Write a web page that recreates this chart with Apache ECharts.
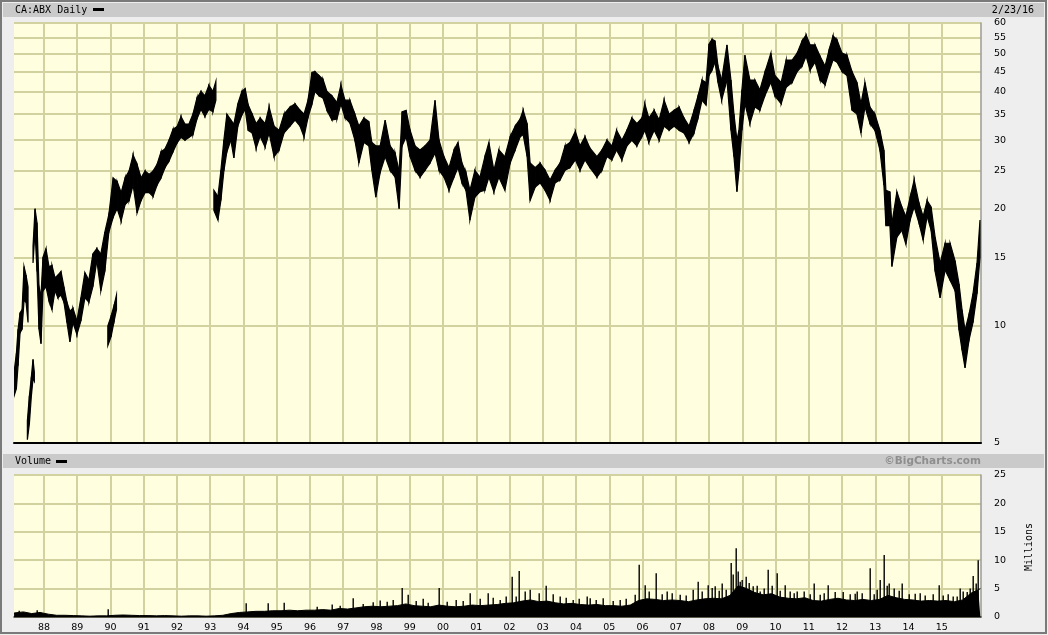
<!DOCTYPE html>
<html><head><meta charset="utf-8">
<script src="https://cdn.jsdelivr.net/npm/echarts@6/dist/echarts.min.js"></script>
<style>html,body{margin:0;padding:0;background:#EEEEEE;}#c{width:1048px;height:635px;}</style>
</head><body><div id="c"></div>
<script>
// ---- data (decimal years; prices; volume in millions) ----
const yearTicks = [1988,1989,1990,1991,1992,1993,1994,1995,1996,1997,1998,1999,2000,2001,2002,2003,2004,2005,2006,2007,2008,2009,2010,2011,2012,2013,2014,2015];
const priceTicks = [5,10,15,20,25,30,35,40,45,50,55,60];

// the daily record has a few disjoint pieces; each piece has its own arrays
const early87Dates = [1987.10,1987.17,1987.22,1987.28,1987.34,1987.40,1987.46,1987.52];
const early87High  = [7.6,8.5,9.8,10.8,11.0,14.2,13.5,12.6];
const early87Low   = [6.6,6.9,7.9,9.6,9.8,11.6,11.5,10.2];

const low87Dates = [1987.50,1987.56,1987.62,1987.67,1987.71];
const low87High  = [5.7,6.6,7.4,8.2,7.6];
const low87Low   = [5.1,5.6,6.6,7.3,7.2];

const mid8793Dates = [
 1987.67,1987.73,1987.79,1987.85,1987.91,1987.97,1988.06,1988.15,1988.24,1988.33,1988.42,1988.51,1988.60,1988.69,1988.78,1988.87,1988.99,
 1989.11,1989.23,1989.35,1989.47,1989.59,1989.71,1989.83,1989.95,1990.08,1990.20,1990.32,1990.44,1990.56,1990.68,1990.80,1990.92,
 1991.04,1991.16,1991.28,1991.40,1991.52,1991.64,1991.76,1991.88,1992.00,1992.12,1992.24,1992.36,1992.48,1992.60,1992.72,1992.84,1992.96,1993.08,1993.17];
const mid8793High = [
 16.0,20.0,18.4,12.6,12.0,15.0,15.8,14.2,14.3,13.3,13.5,13.8,12.6,11.5,10.9,11.1,10.3,
 11.8,13.7,13.1,15.3,15.8,15.3,17.4,19.3,24.0,23.5,22.0,24.0,25.0,27.5,26.0,24.0,
 25.0,24.5,25.0,26.0,28.0,28.5,30.0,32.0,32.5,34.5,33.0,33.0,35.0,38.5,40.0,39.0,41.5,40.0,42.5];
const mid8793Low = [
 14.5,17.5,13.8,9.8,9.0,12.3,12.6,11.6,11.0,12.3,11.8,12.0,11.5,10.2,9.1,10.2,9.5,
 10.3,11.8,11.5,12.6,14.7,12.3,13.8,17.4,19.0,20.0,18.6,20.5,21.0,23.0,19.5,21.0,
 22.0,22.0,21.5,23.0,24.0,25.5,26.5,28.0,29.5,30.5,30.0,30.5,31.0,34.0,36.0,34.5,36.0,35.5,38.0];

const low90Dates = [1989.92,1990.02,1990.11,1990.18];
const low90High  = [10.0,10.6,11.3,12.0];
const low90Low   = [8.9,9.4,10.3,11.0];

// main record from 1993 to 2/23/16
const mainDates = [
 1993.11,1993.23,1993.32,1993.41,1993.50,1993.62,1993.71,1993.83,1993.95,
 1994.05,1994.14,1994.26,1994.38,1994.50,1994.65,1994.77,1994.92,
 1995.07,1995.22,1995.40,1995.55,1995.70,1995.82,1995.94,
 1996.06,1996.15,1996.27,1996.39,1996.51,1996.66,1996.81,1996.93,
 1997.05,1997.20,1997.35,1997.47,1997.62,1997.77,1997.86,1997.98,
 1998.11,1998.26,1998.41,1998.56,1998.68,1998.77,1998.89,
 1999.01,1999.16,1999.31,1999.46,1999.61,1999.76,1999.88,
 2000.03,2000.18,2000.33,2000.45,2000.57,2000.69,2000.81,2000.96,
 2001.11,2001.26,2001.38,2001.53,2001.68,2001.86,
 2002.02,2002.17,2002.32,2002.41,2002.53,2002.62,2002.77,2002.92,
 2003.07,2003.22,2003.37,2003.52,2003.67,2003.82,2003.98,
 2004.12,2004.27,2004.42,2004.63,2004.78,2004.93,
 2005.08,2005.22,2005.38,2005.53,2005.68,2005.83,2005.98,
 2006.07,2006.19,2006.35,2006.50,2006.65,2006.80,2006.95,
 2007.10,2007.25,2007.40,2007.55,2007.67,2007.79,2007.91,
 2008.00,2008.09,2008.18,2008.27,2008.38,2008.54,2008.66,2008.75,2008.84,2008.90,2008.99,
 2009.08,2009.23,2009.38,2009.53,2009.68,2009.86,2009.98,
 2010.17,2010.32,2010.50,2010.65,2010.80,2010.92,
 2011.04,2011.19,2011.34,2011.49,2011.61,2011.73,2011.85,
 2012.00,2012.15,2012.30,2012.45,2012.57,2012.69,2012.84,2012.99,
 2013.14,2013.26,2013.32,2013.44,2013.50,2013.65,2013.80,2013.92,
 2014.05,2014.17,2014.32,2014.44,2014.56,2014.68,2014.80,2014.95,
 2015.10,2015.25,2015.40,2015.52,2015.61,2015.70,2015.82,2015.94,
 2016.06,2016.15];
const mainHigh = [
 22.3,21.5,25.1,30.0,35.0,33.8,33.0,37.2,40.0,
 40.7,37.0,35.0,33.1,34.2,33.1,36.5,32.6,
 31.8,35.0,36.5,37.2,35.8,35.0,38.0,
 44.8,45.0,44.0,43.0,40.0,39.0,37.5,41.6,
 38.0,38.0,35.0,32.6,34.2,33.5,29.6,29.0,
 29.0,33.8,29.0,27.8,25.0,35.5,35.8,
 31.8,29.0,28.3,29.0,30.0,38.0,30.0,
 27.2,25.5,28.3,29.6,26.2,24.8,22.3,25.1,
 24.1,27.2,29.6,25.1,28.3,27.2,
 30.6,32.6,34.0,35.8,33.1,26.2,25.5,26.2,
 25.1,23.7,25.1,26.2,29.0,29.6,31.6,
 29.0,30.6,28.6,27.2,28.3,30.0,
 29.0,31.8,30.0,31.8,34.2,33.1,34.2,
 37.2,34.2,35.8,33.8,38.0,35.0,35.8,
 36.5,34.2,32.6,35.8,39.0,42.8,42.2,
 53.0,54.5,54.0,46.5,42.8,52.7,42.8,35.0,30.0,31.8,40.4,
 49.6,42.8,42.8,40.4,44.8,50.2,44.0,
 42.2,48.2,48.2,50.2,54.0,55.9,
 52.7,52.7,49.3,46.5,51.1,55.6,54.3,
 50.2,49.6,45.0,42.2,37.2,42.2,36.5,35.0,
 31.8,28.3,22.3,22.1,18.3,22.1,20.2,19.1,
 21.4,23.7,20.6,19.1,21.0,20.2,16.9,14.5,
 16.3,16.3,14.7,12.8,11.0,9.75,10.7,12.1,
 14.5,18.7];
const mainLow = [
 19.8,18.7,21.0,25.0,28.0,30.0,27.0,32.6,34.8,
 36.0,31.8,31.3,28.6,30.7,28.8,31.3,27.2,
 28.3,31.3,32.6,33.8,32.6,30.6,34.3,
 37.2,40.0,39.0,38.5,35.8,33.8,34.0,37.2,
 34.3,33.2,30.0,26.2,29.6,29.0,25.1,21.4,
 24.8,27.2,25.1,24.1,20.0,29.0,30.6,
 27.2,25.1,24.1,25.1,26.2,27.8,25.1,
 24.1,22.3,24.1,25.5,23.3,22.3,18.7,21.4,
 22.1,22.3,24.1,22.1,24.1,22.3,
 26.2,28.3,30.6,31.0,27.2,21.0,22.7,23.3,
 22.3,21.0,23.3,23.7,25.1,25.5,26.7,
 25.1,26.7,25.5,24.1,25.1,27.2,
 26.7,28.3,26.7,29.0,30.0,29.0,30.6,
 31.8,29.6,31.8,30.0,32.6,31.8,32.6,
 31.8,31.3,29.6,31.3,34.2,38.0,36.9,
 44.0,45.4,47.6,42.2,38.0,42.8,31.8,27.2,22.1,25.0,31.8,
 37.2,33.1,36.5,35.8,39.0,42.2,39.0,
 37.2,41.0,42.2,45.0,46.5,49.3,
 45.4,47.6,42.8,41.6,45.0,48.2,47.6,
 45.0,44.0,35.8,35.0,31.3,36.5,33.1,31.8,
 28.3,23.0,18.1,18.1,14.2,16.9,17.6,16.2,
 18.7,20.2,18.3,16.6,19.1,17.6,13.8,11.8,
 13.9,13.1,12.3,9.75,8.66,7.8,9.2,10.2,
 12.1,15.0];

// volume: typical daily volume per quarter (millions) and individual tall days
const volBaseDates = [
 1987.10,1987.38,1987.63,1987.88, 1988.13,1988.38,1988.63,1988.88, 1989.13,1989.38,1989.63,1989.88,
 1990.13,1990.38,1990.63,1990.88, 1991.13,1991.38,1991.63,1991.88, 1992.13,1992.38,1992.63,1992.88,
 1993.13,1993.38,1993.63,1993.88, 1994.13,1994.38,1994.63,1994.88, 1995.13,1995.38,1995.63,1995.88,
 1996.13,1996.38,1996.63,1996.88, 1997.13,1997.38,1997.63,1997.88, 1998.13,1998.38,1998.63,1998.88,
 1999.13,1999.38,1999.63,1999.88, 2000.13,2000.38,2000.63,2000.88, 2001.13,2001.38,2001.63,2001.88,
 2002.13,2002.38,2002.63,2002.88, 2003.13,2003.38,2003.63,2003.88, 2004.13,2004.38,2004.63,2004.88,
 2005.13,2005.38,2005.63,2005.88, 2006.13,2006.38,2006.63,2006.88, 2007.13,2007.38,2007.63,2007.88,
 2008.13,2008.38,2008.63,2008.88, 2009.13,2009.38,2009.63,2009.88, 2010.13,2010.38,2010.63,2010.88,
 2011.13,2011.38,2011.63,2011.88, 2012.13,2012.38,2012.63,2012.88, 2013.13,2013.38,2013.63,2013.88,
 2014.13,2014.38,2014.63,2014.88, 2015.13,2015.38,2015.63,2015.88, 2016.10,2016.16];
const volBase = [
 0.7,0.9,0.6,0.8, 0.5,0.3,0.3,0.25, 0.2,0.15,0.2,0.2,
 0.3,0.35,0.3,0.25, 0.25,0.2,0.25,0.2, 0.15,0.2,0.2,0.15,
 0.2,0.3,0.6,0.8, 0.9,1.0,1.0,1.1, 1.1,1.2,1.1,1.2,
 1.2,1.3,1.2,1.5, 1.4,1.6,1.8,1.9, 1.8,1.9,2.0,2.3,
 2.0,1.9,1.8,2.1, 1.9,1.8,1.9,2.1, 2.0,2.1,2.2,2.4,
 2.5,2.8,3.0,2.7, 2.8,2.5,2.3,2.4, 2.2,2.1,2.2,2.0,
 2.0,1.9,2.1,2.9, 3.2,3.1,2.9,3.0, 2.9,2.7,3.0,3.2,
 3.3,3.2,3.8,5.5, 5.0,4.3,3.9,4.1, 3.5,3.3,3.2,3.4,
 2.9,2.8,3.1,3.3, 3.0,2.9,3.1,2.9, 3.1,3.8,3.4,3.1,
 3.0,2.8,2.9,2.8, 2.9,2.7,3.0,4.2, 4.8,5.0];
const volSpikeDates = [
 1987.78,1987.25,1989.93,1994.08,1994.74,1995.22,1996.66,1997.29,1998.11,1998.32,1998.77,1998.95,
 1999.55,1999.88,2000.12,2000.81,2001.35,2001.71,2002.08,2002.20,2002.29,2002.47,2002.62,
 2003.10,2003.52,2003.91,2004.33,2004.42,2004.81,2005.32,2005.77,2005.89,2006.07,2006.42,2006.74,
 2007.13,2007.52,2007.67,2007.97,2008.09,2008.18,2008.39,2008.65,2008.80,2008.93,
 2009.11,2009.32,2009.53,2009.77,2010.04,2010.29,2010.44,2010.65,
 2011.17,2011.34,2011.59,2012.04,2012.39,2012.45,2012.83,2013.15,2013.27,2013.42,2013.81,
 2014.19,2014.35,2014.93,2015.34,2015.55,2015.75,2015.95,2016.03,2016.10,
 1996.20,1996.90,1997.60,1997.90,1998.50,1999.20,1999.40,2000.40,2000.60,2001.10,2001.50,2001.90,
 2002.90,2003.30,2003.70,2004.10,2004.60,2005.10,2005.50,2006.20,2006.60,2006.90,2007.30,2007.80,
 2008.30,2008.50,2008.72,2008.87,2009.00,2009.20,2009.45,2009.65,2009.90,2010.15,2010.55,2010.85,
 2011.05,2011.45,2011.80,2012.25,2012.60,2012.95,2013.05,2013.35,2013.55,2013.70,2014.00,2014.50,
 2014.75,2015.05,2015.20,2015.45,2015.65,2015.85];
const volSpikes = [
 1.2,1.1,1.35,2.4,2.4,2.5,2.2,3.3,2.9,2.7,5.1,3.9,
 2.5,5.1,2.7,4.2,4.2,3.0,7.1,3.6,8.1,4.5,4.8,
 5.5,3.6,3.0,3.6,3.3,3.3,3.0,3.9,9.2,5.6,7.7,4.5,
 3.9,4.8,6.2,5.6,5.1,5.4,5.9,9.5,12.1,6.2,
 7.1,5.4,4.5,8.3,7.7,5.6,4.5,4.5,
 5.9,3.9,5.6,4.4,4.1,4.5,8.6,6.5,10.9,5.9,5.9,
 4.1,4.2,5.6,3.6,5.0,4.4,7.2,5.9,10.0,
 1.8,2.0,2.3,2.6,3.0,2.8,3.2,3.0,2.8,3.2,3.4,3.6,
 4.2,4.0,3.4,3.2,3.0,2.8,3.2,4.5,4.0,4.2,3.8,4.5,
 4.6,4.8,7.5,8.0,6.5,6.0,5.5,5.0,5.5,4.6,4.2,4.5,
 4.0,4.2,4.4,4.0,4.2,4.0,4.8,5.5,5.0,4.6,4.0,3.8,
 4.0,3.8,4.0,3.6,4.5,5.0];

// ---- build ----
const X_MIN = 1987.098, X_MAX = 2016.18;
const pieces = [
  [early87Dates, early87High, early87Low],
  [low87Dates, low87High, low87Low],
  [mid8793Dates, mid8793High, mid8793Low],
  [low90Dates, low90High, low90Low],
  [mainDates, mainHigh, mainLow]
];
const bandItems = [];
pieces.forEach(([d, h, l]) => {
  for (let i = 0; i < d.length - 1; i++) {
    bandItems.push([d[i], h[i], l[i], d[i + 1], h[i + 1], l[i + 1]]);
  }
});
const volBaseData = volBaseDates.map((d, i) => [d, volBase[i]]);
const volSpikeData = volSpikeDates.map((d, i) => [d, volSpikes[i]]);

const GRIDC = '#D2D2A0';
const LABEL = { fontFamily: 'DejaVu Sans', fontSize: 9.5, color: '#000' };
const chart = echarts.init(document.getElementById('c'));
chart.setOption({
  backgroundColor: '#EEEEEE',
  animation: false,
  grid: [
    { left: 14, top: 23, width: 967, height: 420, show: true, backgroundColor: '#FFFFE0', borderWidth: 0 },
    { left: 14, top: 475, width: 967, height: 142, show: true, backgroundColor: '#FFFFE0', borderWidth: 0 }
  ],
  xAxis: [
    { type: 'value', gridIndex: 0, min: X_MIN, max: X_MAX,
      axisLine: { show: true, onZero: false, lineStyle: { color: '#000', width: 2 } },
      axisTick: { show: false, customValues: yearTicks },
      axisLabel: { show: false, customValues: yearTicks },
      splitLine: { show: true, lineStyle: { color: GRIDC, width: 2 } } },
    { type: 'value', gridIndex: 1, min: X_MIN, max: X_MAX,
      axisLine: { show: true, onZero: false, lineStyle: { color: '#333', width: 1.5 } },
      axisTick: { show: false, customValues: yearTicks },
      axisLabel: Object.assign({ show: true, customValues: yearTicks, margin: 6,
        formatter: v => String(Math.round(v) % 100).padStart(2, '0') }, LABEL),
      splitLine: { show: true, lineStyle: { color: GRIDC, width: 2 } } }
  ],
  yAxis: [
    { type: 'log', gridIndex: 0, min: 5, max: 60, position: 'right',
      axisLine: { show: true, lineStyle: { color: '#9A9A9A', width: 1.5 } },
      axisTick: { show: false, customValues: priceTicks },
      axisLabel: Object.assign({ customValues: priceTicks, margin: 13 }, LABEL),
      splitLine: { show: true, lineStyle: { color: GRIDC, width: 2 } } },
    { type: 'value', gridIndex: 1, min: 0, max: 25, interval: 5, position: 'right',
      axisLine: { show: true, lineStyle: { color: '#9A9A9A', width: 1.5 } },
      axisTick: { show: false },
      axisLabel: Object.assign({ margin: 13 }, LABEL),
      splitLine: { show: true, lineStyle: { color: GRIDC, width: 2 } } }
  ],
  series: [
    { type: 'custom', xAxisIndex: 0, yAxisIndex: 0, clip: true, silent: true,
      data: bandItems, encode: { x: [0, 3], y: [1, 2, 4, 5] },
      renderItem: (params, api) => {
        const p1 = api.coord([api.value(0), api.value(1)]);
        const p2 = api.coord([api.value(3), api.value(4)]);
        const p3 = api.coord([api.value(3), api.value(5)]);
        const p4 = api.coord([api.value(0), api.value(2)]);
        return { type: 'polygon', shape: { points: [p1, p2, p3, p4] },
                 style: { fill: '#000', stroke: '#000', lineWidth: 1.2 } };
      } },
    { type: 'line', xAxisIndex: 1, yAxisIndex: 1, data: volBaseData, symbol: 'none', silent: true,
      lineStyle: { color: '#000', width: 1 }, areaStyle: { color: '#000', opacity: 1 } },
    { type: 'custom', xAxisIndex: 1, yAxisIndex: 1, clip: true, silent: true,
      data: volSpikeData, encode: { x: 0, y: 1 },
      renderItem: (params, api) => {
        const top = api.coord([api.value(0), api.value(1)]);
        const bot = api.coord([api.value(0), 0]);
        return { type: 'rect', shape: { x: Math.round(top[0]) - 0.5, y: top[1], width: 1.4, height: bot[1] - top[1] },
                 style: { fill: '#000' } };
      } }
  ],
  graphic: [
    { type: 'rect', shape: { x: 1, y: 1, width: 1045, height: 632 }, style: { fill: 'none', stroke: '#7A7A7A', lineWidth: 2 } },
    { type: 'rect', shape: { x: 3, y: 3, width: 1041, height: 14 }, style: { fill: '#CACACA' } },
    { type: 'text', x: 15, y: 10, style: { text: 'CA:ABX Daily', font: '10px "DejaVu Sans Mono"', fill: '#000', textVerticalAlign: 'middle' } },
    { type: 'rect', shape: { x: 93, y: 8, width: 11, height: 3 }, style: { fill: '#000' } },
    { type: 'text', x: 1034, y: 10, style: { text: '2/23/16', font: '10px "DejaVu Sans Mono"', fill: '#000', textAlign: 'right', textVerticalAlign: 'middle' } },
    { type: 'rect', shape: { x: 3, y: 454, width: 1041, height: 14 }, style: { fill: '#CACACA' } },
    { type: 'text', x: 15, y: 461, style: { text: 'Volume', font: '10px "DejaVu Sans Mono"', fill: '#000', textVerticalAlign: 'middle' } },
    { type: 'rect', shape: { x: 56, y: 460, width: 11, height: 3 }, style: { fill: '#000' } },
    { type: 'text', x: 981, y: 461, style: { text: '\u00A9BigCharts.com', font: 'bold 10.5px "DejaVu Sans"', fill: '#8E8E8E', textAlign: 'right', textVerticalAlign: 'middle' } },
    { type: 'text', x: 1029, y: 547, rotation: Math.PI / 2, style: { text: 'Millions', font: '10px "DejaVu Sans Mono"', fill: '#000', textAlign: 'center', textVerticalAlign: 'middle' } }
  ]
});
</script></body></html>
